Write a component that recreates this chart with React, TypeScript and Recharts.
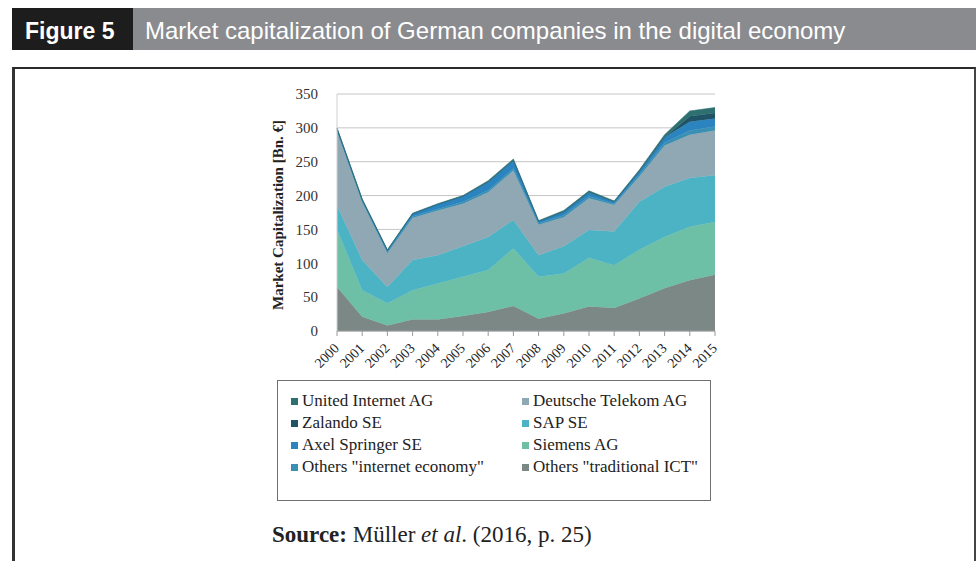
import React from "react";
import { AreaChart, Area, XAxis, YAxis, CartesianGrid } from "recharts";

// years on the x axis
const years = ["2000", "2001", "2002", "2003", "2004", "2005", "2006", "2007", "2008", "2009", "2010", "2011", "2012", "2013", "2014", "2015"];

// market capitalization per company group, Bn. €
const othersTraditionalIct = [65, 21, 8, 17, 17, 22, 28, 37, 18, 26, 36, 34, 48, 63, 75, 83];
const siemensAg = [85, 39, 33, 43, 53, 58, 62, 85, 62, 59, 72, 63, 72, 76, 79, 78];
const sapSe = [35, 45, 24, 45, 42, 45, 49, 42, 32, 40, 41, 50, 71, 74, 72, 69];
const deutscheTelekom = [110, 85, 50, 62, 66, 63, 66, 73, 45, 43, 47, 39, 37, 61, 64, 66];
const othersInternetEconomy = [2, 2, 2, 2, 2, 3, 3, 3, 2, 3, 3, 2, 3, 4, 6, 6];
const axelSpringer = [2, 2, 2, 4, 7, 8, 12, 12, 3, 5, 6, 3, 5, 8, 13, 12];
const zalando = [0, 0, 0, 0, 0, 0, 0, 0, 0, 0, 0, 0, 0, 0, 8, 8];
const unitedInternet = [1, 1, 1, 1, 1, 1, 2, 2, 1, 2, 2, 1, 2, 4, 8, 8];

const yTicks = [0, 50, 100, 150, 200, 250, 300, 350];

// bottom of the stack first
const series = [
  { key: "othersTraditional", name: 'Others "traditional ICT"', values: othersTraditionalIct, color: "#7c8885" },
  { key: "siemens", name: "Siemens AG", values: siemensAg, color: "#6dbfa5" },
  { key: "sap", name: "SAP SE", values: sapSe, color: "#4cb3c4" },
  { key: "telekom", name: "Deutsche Telekom AG", values: deutscheTelekom, color: "#8fa8b4" },
  { key: "othersInternet", name: 'Others "internet economy"', values: othersInternetEconomy, color: "#3a90b2" },
  { key: "axel", name: "Axel Springer SE", values: axelSpringer, color: "#2b84c0" },
  { key: "zalando", name: "Zalando SE", values: zalando, color: "#1f5466" },
  { key: "united", name: "United Internet AG", values: unitedInternet, color: "#2e6f70" },
];

const legendLeft = ["united", "zalando", "axel", "othersInternet"];
const legendRight = ["telekom", "sap", "siemens", "othersTraditional"];

const data = years.map((year, i) => {
  const row: Record<string, string | number> = { year };
  series.forEach((s) => {
    row[s.key] = s.values[i];
  });
  return row;
});

const serif = '"Liberation Serif", "Times New Roman", serif';
const sans = '"Liberation Sans", Arial, sans-serif';

function YearTick({ x, y, payload }: any) {
  const ax = x + 3;
  const ay = y + 11;
  return (
    <text x={ax} y={ay} transform={`rotate(-45 ${ax} ${ay})`} textAnchor="end" fontSize={14} fontFamily={serif} fill="#222">
      {payload.value}
    </text>
  );
}

// axis title, drawn rotated beside the tick labels
function YLabel() {
  const cx = 28;
  const cy = 135;
  return (
    <text
      x={cx}
      y={cy}
      transform={`rotate(-90 ${cx} ${cy})`}
      textAnchor="middle"
      dominantBaseline="central"
      fontSize={15}
      fontWeight="bold"
      fontFamily={serif}
      fill="#222"
    >
      Market Capitalization [Bn. €]
    </text>
  );
}

function LegendItem({ id }: { id: string }) {
  const s = series.find((e) => e.key === id)!;
  return (
    <div style={{ display: "flex", alignItems: "center", height: 22, lineHeight: "22px" }}>
      <span style={{ width: 7, height: 7, background: s.color, marginRight: 4, display: "inline-block" }} />
      <span>{s.name}</span>
    </div>
  );
}

export default function App() {
  return (
    <div style={{ position: "absolute", left: 0, top: 0, width: 976, height: 561, overflow: "hidden", background: "#fff" }}>
      {/* header */}
      <div style={{ position: "absolute", left: 12, top: 8, width: 121, height: 42, background: "#1d1d1d" }} />
      <div style={{ position: "absolute", left: 133, top: 8, width: 843, height: 42, background: "#8a8b8f" }} />
      <div style={{ position: "absolute", left: 25, top: 10, height: 42, lineHeight: "42px", fontFamily: sans, fontWeight: "bold", fontSize: 23, color: "#fff", whiteSpace: "nowrap" }}>
        Figure 5
      </div>
      <div style={{ position: "absolute", left: 145, top: 10, height: 42, lineHeight: "42px", fontFamily: sans, fontSize: 24, color: "#fff", whiteSpace: "nowrap" }}>
        Market capitalization of German companies in the digital economy
      </div>

      {/* frame */}
      <div
        style={{
          position: "absolute",
          left: 12,
          top: 67,
          width: 964,
          height: 520,
          boxSizing: "border-box",
          borderTop: "2.5px solid #2a2a2a",
          borderLeft: "3px solid #333",
          borderRight: "2px solid #444",
        }}
      />

      {/* chart */}
      <div style={{ position: "absolute", left: 250, top: 80 }}>
        <AreaChart width={480} height={300} data={data} margin={{ top: 14, right: 15, left: 0, bottom: 0 }}>
          <CartesianGrid vertical={false} stroke="#c6c6c6" strokeWidth={1} />
          <XAxis
            dataKey="year"
            interval={0}
            height={49}
            tick={<YearTick />}
            tickSize={5}
            tickMargin={2}
            stroke="#9a9a9a"
            tickLine={{ stroke: "#9a9a9a" }}
          />
          <YAxis
            domain={[0, 350]}
            ticks={yTicks}
            width={87}
            tickSize={0}
            tickMargin={19}
            stroke="#d0d0d0"
            tick={{ fontSize: 15, fontFamily: serif, fill: "#333" }}
            label={<YLabel />}
          />
          {series.map((s) => (
            <Area
              key={s.key}
              type="linear"
              dataKey={s.key}
              name={s.name}
              stackId="cap"
              fill={s.color}
              fillOpacity={1}
              stroke={s.color}
              strokeWidth={0.6}
              isAnimationActive={false}
            />
          ))}
        </AreaChart>
      </div>

      {/* legend */}
      <div
        style={{
          position: "absolute",
          left: 277,
          top: 380,
          width: 434,
          height: 121,
          boxSizing: "border-box",
          border: "1.5px solid #707070",
          fontFamily: serif,
          fontSize: 17,
          color: "#222",
        }}
      >
        <div style={{ position: "absolute", left: 13, top: 9 }}>
          {legendLeft.map((id) => (
            <LegendItem key={id} id={id} />
          ))}
        </div>
        <div style={{ position: "absolute", left: 244, top: 9 }}>
          {legendRight.map((id) => (
            <LegendItem key={id} id={id} />
          ))}
        </div>
      </div>

      {/* source */}
      <div style={{ position: "absolute", left: 272, top: 523, fontFamily: serif, fontSize: 23, lineHeight: "23px", color: "#222", whiteSpace: "nowrap" }}>
        <b>Source:</b> Müller <i>et al</i>. (2016, p. 25)
      </div>
    </div>
  );
}
